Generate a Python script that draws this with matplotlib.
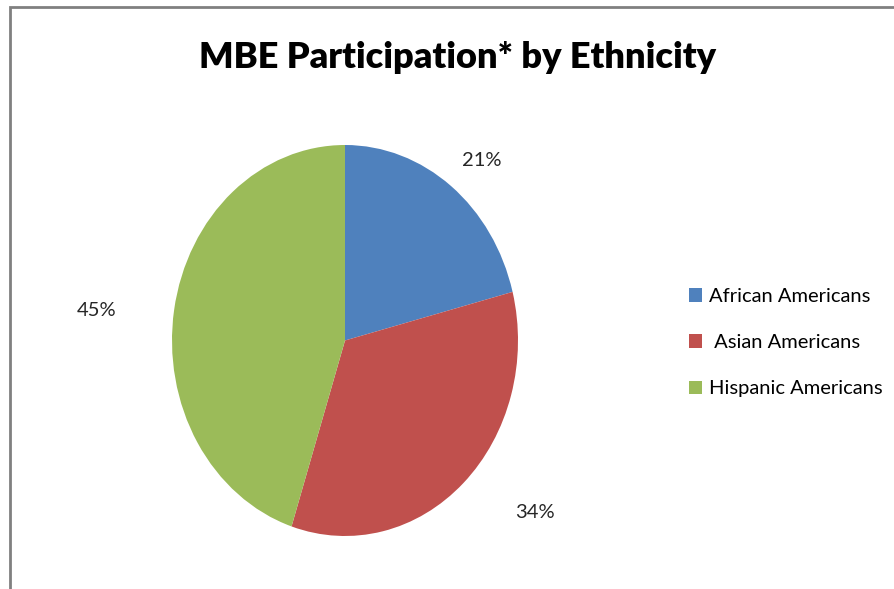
import matplotlib
matplotlib.use("Agg")
from matplotlib import pyplot as plt
from matplotlib.patches import Rectangle, Patch

groups = ["African Americans", " Asian Americans", "Hispanic Americans"]
shares = [21, 34, 45]
colors = ["#4F81BD", "#C0504D", "#9BBB59"]
pct_labels = ["21%", "34%", "45%"]

plt.rcParams['font.family'] = ['Lato', 'DejaVu Sans']

W, H = 895, 589
fig = plt.figure(figsize=(W / 100, H / 100), dpi=100)

# outer chart frame (only top and left edges fall inside the picture)
fig.patches.append(Rectangle((10 / W, -0.05), 1.2, (H - 7) / H + 0.05,
                             transform=fig.transFigure, fill=False,
                             edgecolor="#808080", linewidth=2.0))

# pie is a bit taller than wide in the original
cx, cy, rx, ry = 345, 340.5, 173, 195.5
ax = fig.add_axes([(cx - rx) / W, (H - cy - ry) / H, 2 * rx / W, 2 * ry / H])
wedges, _ = ax.pie(shares, colors=colors, startangle=90, counterclock=False,
                   radius=1.0, wedgeprops=dict(linewidth=0))
ax.set_aspect('auto')
ax.set_xlim(-1, 1)
ax.set_ylim(-1, 1)

# percentage labels (outside end)
label_px = [(482, 160), (535, 513), (97, 310)]
for txt, (px, py) in zip(pct_labels, label_px):
    ax.text((px - cx) / rx, (cy - py) / ry, txt, ha="center", va="center",
            fontsize=14.5, color="#262626")

fig.text(458 / W, 1 - 57 / H, "MBE Participation* by Ethnicity",
         ha="center", va="center", fontsize=26, fontweight="heavy", color="black")

handles = [Patch(facecolor=c, edgecolor="none") for c in colors]
fig.legend(handles, groups, loc="upper left", bbox_to_anchor=(689 / W, 1 - 288 / H),
           frameon=False, fontsize=14.5, handlelength=0.65, handleheight=0.65,
           handletextpad=0.35, labelspacing=1.45, borderpad=0, borderaxespad=0)

fig.savefig("out.png", dpi=100, facecolor="white")
